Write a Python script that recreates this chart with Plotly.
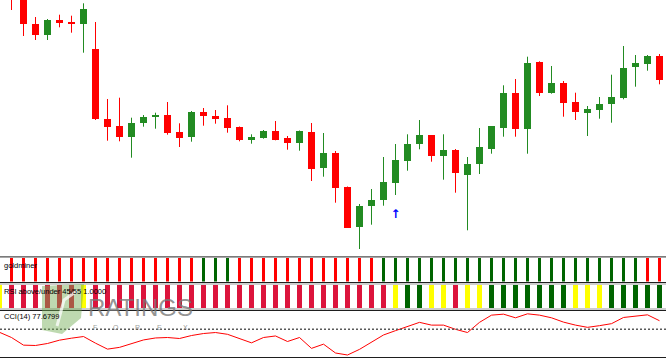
import plotly.graph_objects as go

# ---------------- data ----------------
candle_idx = list(range(55))
opens = [1.1330, 1.1315, 1.12757, 1.12653, 1.1280, 1.12772, 1.12763, 1.1251, 1.11807, 1.11737,
         1.11633, 1.11773, 1.1183, 1.1185, 1.1168, 1.11627, 1.1188, 1.11843, 1.11823, 1.1173,
         1.1160, 1.1162, 1.1169, 1.1162, 1.11573, 1.11683, 1.1132, 1.11475, 1.1113, 1.10733,
         1.10937, 1.10997, 1.11173, 1.1139, 1.1156, 1.11647, 1.1144, 1.11503, 1.11253, 1.11357,
         1.11513, 1.11723, 1.12073, 1.1171, 1.12377, 1.12073, 1.1217, 1.11983, 1.11867, 1.11897,
         1.11957, 1.1202, 1.12333, 1.12363, 1.1244]
highs = [1.1345, 1.1320, 1.1283, 1.1281, 1.12853, 1.12843, 1.12967, 1.1278, 1.1201, 1.12023,
         1.11823, 1.1185, 1.11873, 1.1198, 1.11767, 1.1189, 1.1192, 1.1190, 1.11947, 1.11735,
         1.11657, 1.1170, 1.1179, 1.1164, 1.11695, 1.1177, 1.1167, 1.1149, 1.11135, 1.1096,
         1.1111, 1.1143, 1.1156, 1.11657, 1.1180, 1.1165, 1.11657, 1.1151, 1.1143, 1.1172,
         1.1174, 1.12147, 1.1221, 1.12433, 1.12387, 1.1234, 1.1219, 1.12073, 1.1194, 1.1203,
         1.12253, 1.1254, 1.1245, 1.1245, 1.1246]
lows = [1.1290, 1.1264, 1.1260, 1.1260, 1.12727, 1.12673, 1.12473, 1.1180, 1.11593, 1.11587,
        1.11423, 1.11733, 1.11713, 1.11653, 1.1153, 1.11583, 1.11743, 1.11763, 1.11673, 1.11587,
        1.11563, 1.11613, 1.11597, 1.11503, 1.11493, 1.1119, 1.11233, 1.10973, 1.1072, 1.1051,
        1.10753, 1.10943, 1.1105, 1.11293, 1.11507, 1.11383, 1.11203, 1.11073, 1.10697, 1.1126,
        1.11463, 1.11633, 1.11633, 1.11463, 1.1204, 1.12063, 1.11833, 1.1180, 1.1164, 1.11813,
        1.11773, 1.12007, 1.12133, 1.12293, 1.12157]
closes = [1.1302, 1.1276, 1.12647, 1.1280, 1.12767, 1.12762, 1.1291, 1.11813, 1.11733, 1.11627,
          1.11773, 1.11833, 1.1185, 1.11673, 1.1162, 1.1188, 1.11837, 1.11813, 1.11723, 1.11597,
          1.11627, 1.1169, 1.11603, 1.11567, 1.1169, 1.11313, 1.11467, 1.11117, 1.10723, 1.1094,
          1.1100, 1.1118, 1.1140, 1.11563, 1.11647, 1.1144, 1.11503, 1.11267, 1.1136, 1.1153,
          1.11737, 1.12073, 1.1171, 1.12367, 1.12073, 1.1217, 1.11973, 1.11883, 1.1191, 1.1196,
          1.1203, 1.1232, 1.12373, 1.1244, 1.12197]

signal_idx = [32]
signal_price = [1.1085]

goldminer_state = ["sell"] * 16 + ["buy"] * 3 + ["sell"] * 12 + ["buy"] * 22 + ["sell"] * 2

rsi_idx = list(range(-1, 55))
rsi_state = (["mid"] + ["down"] * 6 + ["mid"] + ["down"] * 25 + ["mid"] + ["up"] * 2 + ["mid"] * 2
             + ["down"] + ["mid"] * 2 + ["up"] * 7 + ["mid"] * 3 + ["up"] * 5)

cci_idx = list(range(-1, 55))
cci_values = [-27, -74, -143, -146, -128, -98, -80, -65, -125, -179, -163, -131, -96, -78, -74,
              -83, -56, -38, -29, -45, -80, -122, -74, -60, -110, -74, -172, -134, -214, -232,
              -181, -119, -51, -12, 29, 63, 38, 38, 0, -29, 63, 128, 137, 104, 140, 128, 104,
              65, 38, 18, 33, 51, 107, 119, 131, 77.6799]
cci_level = 0

labels = ["goldminer", "RSI above/under 45/55 1.0000", "CCI(14) 77.6799"]

# ---------------- styling helpers ----------------
W, H = 666, 358


def py(y):
    return 1 - y / H


RED = "#FF0000"
GREEN = "#228B22"
gm_colors = {"sell": "#FF0000", "buy": "#006400"}
rsi_colors = {"down": "#DC143C", "mid": "#FFFF00", "up": "#006400"}

fig = go.Figure()

# candle wicks
for col, is_up in ((RED, False), (GREEN, True)):
    xs, ys = [], []
    for i, o, h, l, c in zip(candle_idx, opens, highs, lows, closes):
        if (c > o) == is_up:
            xs += [i, i, None]
            ys += [h, l, None]
    fig.add_trace(go.Scatter(x=xs, y=ys, mode="lines", line=dict(color=col, width=1),
                             hoverinfo="skip", xaxis="x", yaxis="y"))

# candle bodies
fig.add_trace(go.Bar(
    x=candle_idx,
    base=[min(o, c) for o, c in zip(opens, closes)],
    y=[abs(c - o) for o, c in zip(opens, closes)],
    width=0.66,
    marker=dict(color=[GREEN if c > o else RED for o, c in zip(opens, closes)],
                line=dict(width=0)),
    xaxis="x", yaxis="y", hoverinfo="skip"))

# signal arrow
fig.add_trace(go.Scatter(x=signal_idx, y=signal_price, mode="text", text=["↑"],
                         textfont=dict(color="#0000FF", size=12, family="DejaVu Sans", weight="bold"),
                         xaxis="x", yaxis="y", hoverinfo="skip"))

# goldminer histogram
fig.add_trace(go.Bar(x=candle_idx, y=[1] * len(candle_idx), width=0.17,
                     marker=dict(color=[gm_colors[s] for s in goldminer_state], line=dict(width=0)),
                     xaxis="x", yaxis="y2", hoverinfo="skip"))

# RSI histogram
fig.add_trace(go.Bar(x=rsi_idx, y=[1] * len(rsi_idx), width=0.38,
                     marker=dict(color=[rsi_colors[s] for s in rsi_state], line=dict(width=0)),
                     xaxis="x", yaxis="y3", hoverinfo="skip"))

# CCI line
fig.add_trace(go.Scatter(x=cci_idx, y=cci_values, mode="lines", line=dict(color=RED, width=1),
                         xaxis="x", yaxis="y4", hoverinfo="skip"))

a = -11.5 / 12
xr = [a, a + W / 12]
hidden = dict(showticklabels=False, showgrid=False, zeroline=False, showline=False, ticks="")

fig.update_layout(
    width=W, height=H,
    margin=dict(l=0, r=0, t=0, b=0),
    paper_bgcolor="white", plot_bgcolor="white",
    showlegend=False, barmode="overlay", bargap=0,
    xaxis=dict(range=xr, **hidden),
    yaxis=dict(domain=[py(255), 1], range=[1.1045, 1.1300], **hidden),
    yaxis2=dict(domain=[py(281.5), py(258)], range=[0, 1], **hidden),
    yaxis3=dict(domain=[py(308), py(284.5)], range=[0, 1], **hidden),
    yaxis4=dict(domain=[py(357), py(310.5)], range=[-250, 170], **hidden),
)

shapes = []
for y, col in ((256, "#7a7a7a"), (257, "#a8a8a8"), (282, "#1e1e1e"), (283.5, "#9c9c9c"),
               (308.5, "#9c9c9c"), (310, "#1e1e1e"), (357, "#1e1e1e")):
    shapes.append(dict(type="line", xref="paper", yref="paper", x0=0, x1=1,
                       y0=py(y + 0.5), y1=py(y + 0.5), line=dict(color=col, width=1)))
shapes.append(dict(type="line", xref="paper", yref="y4", x0=0, x1=1, y0=cci_level, y1=cci_level,
                   line=dict(color="#5a5a5a", width=1.5, dash="2px,2px")))
# watermark logo
shapes.append(dict(type="path", xref="paper", yref="paper", layer="above",
                   path="M {:.4f},{:.4f} L {:.4f},{:.4f} L {:.4f},{:.4f} L {:.4f},{:.4f} L {:.4f},{:.4f} Z".format(
                       42 / W, py(286), 84 / W, py(284), 81 / W, py(318), 62 / W, py(334), 42 / W, py(330)),
                   fillcolor="rgba(110,170,80,0.45)", line=dict(width=0)))
shapes.append(dict(type="path", xref="paper", yref="paper", layer="above",
                   path="M {:.4f},{:.4f} L {:.4f},{:.4f} L {:.4f},{:.4f}".format(
                       57 / W, py(326), 64 / W, py(300), 77 / W, py(291)),
                   line=dict(color="rgba(255,255,255,0.75)", width=3)))
fig.update_layout(shapes=shapes)

ann = []
for text, y in zip(labels, (265.5, 291, 316.5)):
    ann.append(dict(text=text, xref="paper", yref="paper", x=2 / W, y=py(y), xanchor="left",
                    yanchor="middle", showarrow=False,
                    font=dict(family="Liberation Sans", size=7.5, color="#000000")))
ann.append(dict(text="RATINGS", xref="paper", yref="paper", x=140 / W, y=py(307), xanchor="center",
                yanchor="middle", showarrow=False,
                font=dict(family="Liberation Sans", size=24, color="rgba(120,120,120,0.8)")))
for ch, xx in zip("FOREX", (95, 116, 137, 159, 185)):
    ann.append(dict(text=ch, xref="paper", yref="paper", x=xx / W, y=py(327), xanchor="center",
                    yanchor="middle", showarrow=False,
                    font=dict(family="Liberation Sans", size=7, color="rgba(140,140,140,0.85)")))
fig.update_layout(annotations=ann)

fig.write_html("out.html", config={"displayModeBar": False},
               post_script="document.body.style.margin='0';document.body.style.overflow='hidden';")
